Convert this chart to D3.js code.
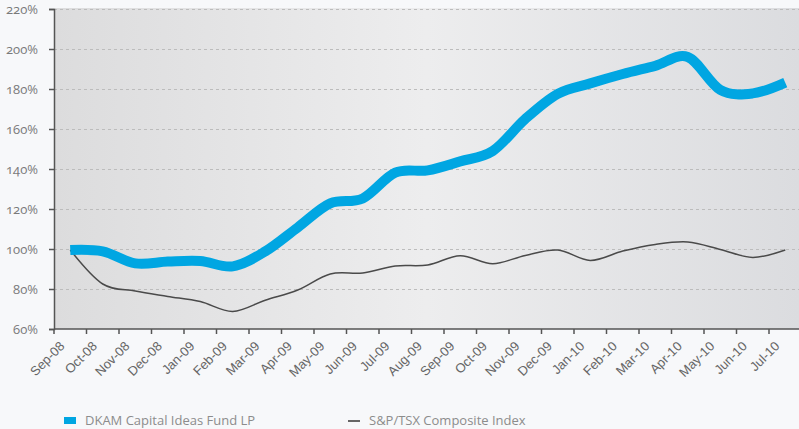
<!DOCTYPE html>
<html>
<head>
<meta charset="utf-8">
<script src="https://cdn.jsdelivr.net/npm/d3@7"></script>
<style>
  body { margin: 0; background: #f7f8fa; }
  svg { display: block; }
  .ylab { font-family: "Open Sans", sans-serif; font-size: 13px; fill: #7a7a7a; font-variant-numeric: oldstyle-nums; }
  .xlab { font-family: "Liberation Sans", Arial, sans-serif; font-size: 13px; fill: #666; }
  .leg { font-family: "Open Sans", sans-serif; font-size: 13px; fill: #8c8c8c; }
</style>
</head>
<body>
<div id="chart"></div>
<script>
// months on the category axis
var months = ["Sep-08","Oct-08","Nov-08","Dec-08","Jan-09","Feb-09","Mar-09","Apr-09","May-09","Jun-09","Jul-09","Aug-09",
              "Sep-09","Oct-09","Nov-09","Dec-09","Jan-10","Feb-10","Mar-10","Apr-10","May-10","Jun-10","Jul-10"];
// DKAM Capital Ideas Fund LP (%)
var fund = [99.5, 98.8, 92.8, 93.7, 94, 91.3, 98.8, 110.8, 122.8, 125.3, 138.2, 139.3,
            143.8, 149, 165, 177.6, 182.8, 187.5, 191.6, 196, 179.6, 177.8, 183.2];
// S&P/TSX Composite Index (%)
var tsx = [99.5, 82.5, 79, 76.3, 73.7, 68.8, 74.4, 79.5, 87.5, 88, 91.5, 92,
           96.6, 92.6, 96.8, 99.5, 94.3, 99, 102.3, 103.5, 99.8, 95.8, 99.5];
var yTicks = [60, 80, 100, 120, 140, 160, 180, 200, 220];

var width = 799, height = 429;
var plotLeft = 54, plotRight = 801.5, plotTop = 9, plotBottom = 329;

var svg = d3.select("#chart").append("svg")
            .attr("width", width)
            .attr("height", height);

var grad = svg.append("defs").append("linearGradient")
              .attr("id", "bg").attr("x1", "0%").attr("x2", "100%");
grad.append("stop").attr("offset", "0%").attr("stop-color", "#dcdcdd");
grad.append("stop").attr("offset", "50%").attr("stop-color", "#ededee");
grad.append("stop").attr("offset", "100%").attr("stop-color", "#dbdcdf");

var xBand = d3.scaleBand().domain(months).range([plotLeft, plotRight]).padding(0);
var xc = d => xBand(d) + xBand.bandwidth() / 2;
var y = d3.scaleLinear().domain([60, 220]).range([plotBottom, plotTop]);

// plot background
svg.append("rect")
   .attr("x", plotLeft).attr("y", plotTop - 1)
   .attr("width", width - plotLeft).attr("height", plotBottom - plotTop + 1)
   .attr("fill", "url(#bg)");

// dashed gridlines
svg.append("g").selectAll("line")
   .data(yTicks.slice(1))
   .enter().append("line")
   .attr("x1", plotLeft).attr("x2", width)
   .attr("y1", d => y(d) + 0.5).attr("y2", d => y(d) + 0.5)
   .attr("stroke", "#bcbcbc").attr("stroke-width", 1)
   .attr("stroke-dasharray", "3,3");

// y axis
var yAxis = d3.axisLeft(y).tickValues(yTicks).tickSize(5).tickFormat(d => d + "%");
var gy = svg.append("g").attr("transform", `translate(${plotLeft},0)`).call(yAxis);
gy.select(".domain").attr("stroke", "#555").attr("stroke-width", 1.5);
gy.selectAll(".tick line").attr("stroke", "#555").attr("stroke-width", 1.5);
gy.selectAll(".tick text").attr("class", "ylab").attr("x", -16).attr("dy", "0.35em");

// x axis with ticks on band boundaries
var gx = svg.append("g").attr("transform", `translate(0,${plotBottom})`);
gx.append("line").attr("x1", plotLeft).attr("x2", width).attr("y1", 0).attr("y2", 0)
  .attr("stroke", "#555").attr("stroke-width", 1.5);
gx.selectAll("line.tk").data(months).enter().append("line").attr("class", "tk")
  .attr("x1", d => xBand(d)).attr("x2", d => xBand(d))
  .attr("y1", 0).attr("y2", 5)
  .attr("stroke", "#555").attr("stroke-width", 1.5);
gx.selectAll("text").data(months).enter().append("text")
  .attr("class", "xlab")
  .attr("text-anchor", "end")
  .attr("transform", d => `translate(${xc(d) - 5},18)rotate(-45)`)
  .text(d => d);

// lines
var line = d3.line().curve(d3.curveCardinal.tension(0))
             .x((d, i) => xc(months[i])).y(d => y(d));

svg.append("path").datum(tsx)
   .attr("d", line).attr("fill", "none")
   .attr("stroke", "#4a4a4a").attr("stroke-width", 1.5);

svg.append("path").datum(fund)
   .attr("d", line).attr("fill", "none")
   .attr("stroke", "#00a6e2").attr("stroke-width", 10);

// legend
svg.append("rect").attr("x", 64).attr("y", 417).attr("width", 12).attr("height", 7).attr("fill", "#00a6e2");
svg.append("text").attr("class", "leg").attr("x", 85).attr("y", 425).text("DKAM Capital Ideas Fund LP");
svg.append("line").attr("x1", 348).attr("x2", 360).attr("y1", 421).attr("y2", 421)
   .attr("stroke", "#666").attr("stroke-width", 2);
svg.append("text").attr("class", "leg").attr("x", 369).attr("y", 425).text("S&P/TSX Composite Index");
</script>
</body>
</html>
